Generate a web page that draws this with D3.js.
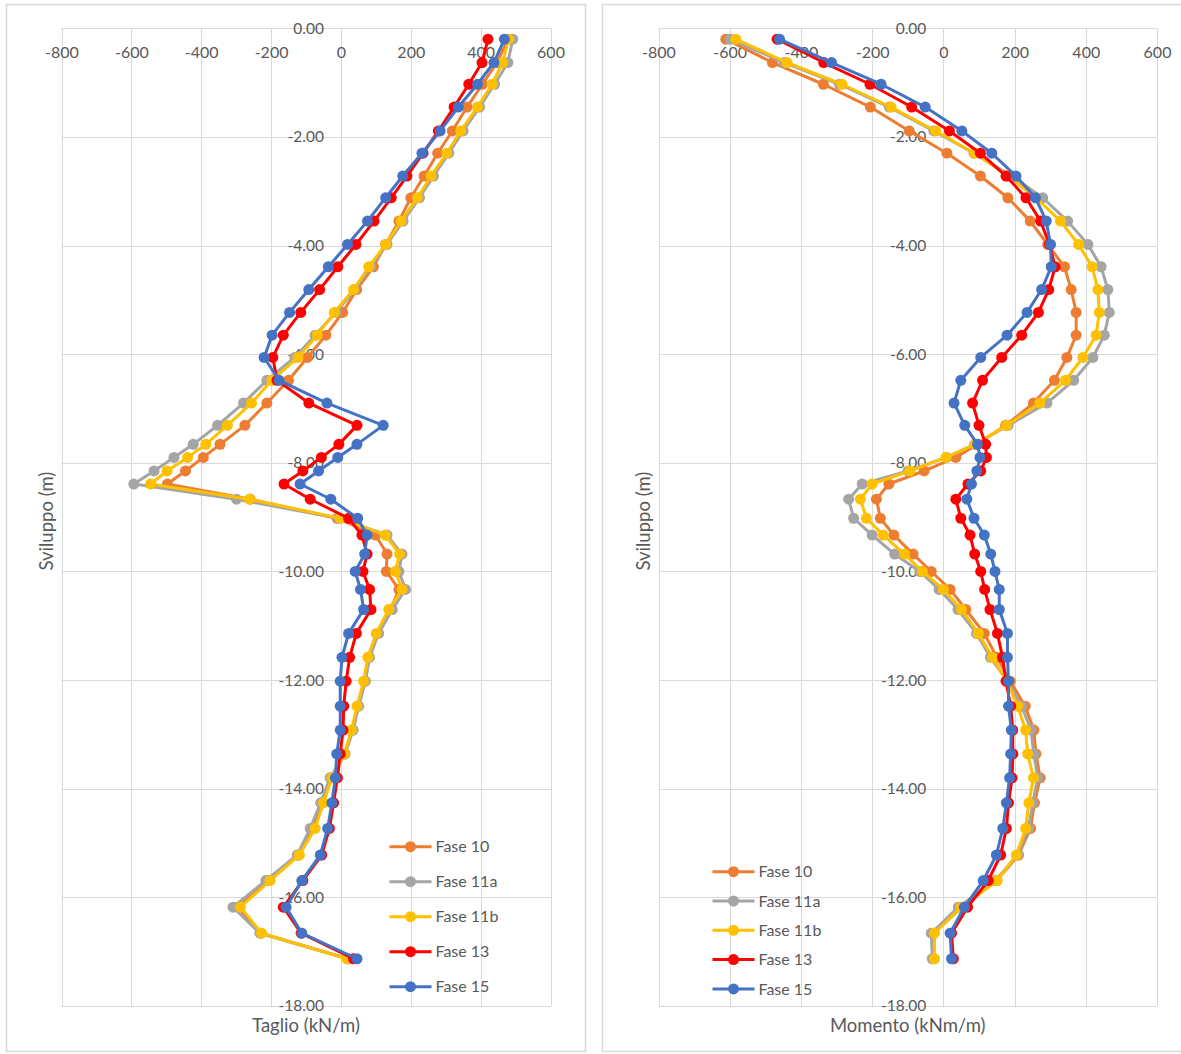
<!DOCTYPE html>
<html>
<head>
<meta charset="utf-8">
<script src="https://cdn.jsdelivr.net/npm/d3@7"></script>
<style>
  html, body { margin: 0; padding: 0; background: #ffffff; }
  svg text { font-family: Lato, "Open Sans", "DejaVu Sans", sans-serif; fill: #595959; }
</style>
</head>
<body>
<svg id="chart" width="1181" height="1054"></svg>
<script>
// Depth of each computed section along the wall (m)
const depths = [-0.20, -0.63, -1.03, -1.45, -1.89, -2.30, -2.72, -3.12, -3.55, -3.98,
  -4.39, -4.81, -5.23, -5.65, -6.06, -6.48, -6.90, -7.31, -7.66, -7.90,
  -8.15, -8.39, -8.67, -9.02, -9.33, -9.68, -10.00, -10.33, -10.70, -11.14,
  -11.58, -12.02, -12.48, -12.92, -13.36, -13.80, -14.26, -14.73, -15.22, -15.69,
  -16.18, -16.66, -17.13];

const phaseNames = ["Fase 10", "Fase 11a", "Fase 11b", "Fase 13", "Fase 15"];

// Shear (kN/m) per phase
const shearFase10 = [478, 447, 405, 361, 319, 277, 238, 200, 166, 128,
  93, 45, 5, -43, -96, -150, -212, -275, -346, -394,
  -445, -497, -260, -11, 99, 132, 130, 166, 142, 104,
  80, 68, 48, 32, 11, -28, -54, -80, -122, -208,
  -295, -229, 20];
const shearFase11a = [492, 478, 440, 397, 350, 309, 265, 225, 178, 132,
  85, 40, -14, -74, -132, -212, -279, -353, -423, -478,
  -535, -593, -299, -7, 132, 175, 166, 185, 147, 108,
  82, 70, 51, 35, 12, -31, -58, -88, -125, -215,
  -309, -232, 20];
const shearFase11b = [480, 463, 433, 391, 343, 303, 258, 219, 172, 128,
  80, 36, -19, -68, -123, -198, -256, -325, -387, -439,
  -498, -545, -262, -2, 127, 168, 156, 175, 137, 101,
  77, 65, 46, 30, 10, -26, -50, -74, -119, -203,
  -288, -227, 17];
const shearFase13 = [421, 404, 366, 324, 279, 235, 189, 144, 95, 43,
  -9, -61, -115, -165, -195, -183, -92, 46, -6, -56,
  -109, -163, -88, 22, 60, 75, 63, 82, 86, 44,
  25, 15, 8, 6, -2, -10, -21, -33, -55, -109,
  -165, -114, 36];
const shearFase15 = [468, 438, 391, 336, 284, 232, 177, 128, 76, 19,
  -36, -92, -147, -197, -220, -177, -40, 121, 46, -9,
  -64, -117, -29, 48, 75, 68, 41, 56, 65, 22,
  3, -2, -2, -2, -12, -16, -26, -38, -59, -112,
  -157, -112, 46];

// Bending moment (kNm/m) per phase
const momentFase10 = [-611, -480, -337, -205, -96, 10, 104, 181, 244, 293,
  340, 359, 373, 373, 347, 312, 253, 175, 95, 35,
  -54, -153, -188, -177, -139, -85, -34, 19, 63, 115,
  150, 188, 230, 254, 260, 272, 256, 245, 211, 150,
  52, -27, -27];
const momentFase11a = [-599, -447, -292, -152, -27, 86, 192, 279, 349, 406,
  443, 462, 466, 452, 420, 366, 291, 182, 88, 9,
  -99, -228, -266, -252, -200, -137, -66, -12, 41, 93,
  132, 180, 220, 246, 254, 265, 251, 239, 209, 146,
  42, -34, -31];
const momentFase11b = [-583, -439, -285, -147, -22, 87, 183, 260, 329, 380,
  418, 434, 438, 429, 392, 343, 271, 178, 90, 7,
  -94, -200, -233, -216, -169, -109, -59, 0, 51, 98,
  138, 178, 209, 231, 237, 253, 240, 231, 205, 151,
  50, -25, -25];
const momentFase13 = [-467, -336, -206, -89, 17, 104, 176, 232, 273, 298,
  314, 296, 267, 220, 164, 110, 82, 100, 119, 121,
  105, 69, 35, 49, 75, 88, 105, 116, 131, 152,
  166, 176, 189, 195, 195, 193, 183, 177, 161, 126,
  68, 23, 28];
const momentFase15 = [-460, -314, -175, -51, 52, 136, 204, 259, 289, 301,
  303, 276, 235, 179, 105, 49, 30, 60, 96, 103,
  94, 79, 66, 86, 115, 133, 145, 157, 157, 180,
  180, 183, 183, 191, 189, 186, 177, 167, 149, 112,
  59, 19, 23];

// Axis ticks
const valueTicks = [-800, -600, -400, -200, 0, 200, 400, 600];
const depthTicks = [0, -2, -4, -6, -8, -10, -12, -14, -16, -18];

const shearSeries = [shearFase10, shearFase11a, shearFase11b, shearFase13, shearFase15];
const momentSeries = [momentFase10, momentFase11a, momentFase11b, momentFase13, momentFase15];

const palette = ["#ED7D31", "#A5A5A5", "#FFC000", "#FF0000", "#4472C4"];
const gridColor = "#D9D9D9";

const svg = d3.select("#chart");
svg.append("rect").attr("width", 1181).attr("height", 1054).attr("fill", "#ffffff");

function drawPanel(opts) {
  const g = svg.append("g");

  // chart frame
  g.append("rect")
    .attr("x", opts.frame[0] + 0.5).attr("y", opts.frame[1] + 0.5)
    .attr("width", opts.frame[2]).attr("height", opts.frame[3])
    .attr("fill", "#ffffff").attr("stroke", gridColor).attr("stroke-width", 1.5);

  const x = d3.scaleLinear().domain([-800, 600]).range([opts.left, opts.right]);
  const y = d3.scaleLinear().domain([0, -18]).range([opts.top, opts.bottom]);

  // gridlines
  g.append("g").selectAll("line.v").data(valueTicks).join("line")
    .attr("x1", d => Math.round(x(d)) + 0.5).attr("x2", d => Math.round(x(d)) + 0.5)
    .attr("y1", opts.top).attr("y2", opts.bottom)
    .attr("stroke", gridColor).attr("stroke-width", 1);
  g.append("g").selectAll("line.h").data(depthTicks).join("line")
    .attr("y1", d => Math.round(y(d)) + 0.5).attr("y2", d => Math.round(y(d)) + 0.5)
    .attr("x1", opts.left).attr("x2", opts.right)
    .attr("stroke", gridColor).attr("stroke-width", 1);

  // horizontal value axis, labels just under the zero-depth line
  const xAxis = d3.axisBottom(x).tickValues(valueTicks).tickSize(0).tickPadding(0)
    .tickFormat(d3.format("d"));
  const xa = g.append("g").attr("transform", `translate(0,${opts.top})`).call(xAxis);
  xa.select(".domain").remove();
  xa.selectAll("text").attr("y", 24).attr("dy", "0.35em")
    .style("font-size", "16px").attr("fill", "#595959")
    .text(d => d < 0 ? "-" + Math.abs(d) : d);

  // vertical depth axis crossing at value 0
  const yAxis = d3.axisLeft(y).tickValues(depthTicks).tickSize(0).tickPadding(17)
    .tickFormat(d => d === 0 ? "0.00" : "-" + Math.abs(d).toFixed(2));
  const ya = g.append("g").attr("transform", `translate(${x(0)},0)`).call(yAxis);
  ya.select(".domain").remove();
  ya.selectAll("text").style("font-size", "15.5px").attr("fill", "#595959");

  // axis titles
  g.append("text")
    .attr("transform", `translate(${opts.yTitleX},${(opts.top + opts.bottom) / 2 + 4}) rotate(-90)`)
    .attr("text-anchor", "middle").attr("dy", "0.35em")
    .style("font-size", "18.5px").text("Sviluppo (m)");
  g.append("text")
    .attr("x", (opts.left + opts.right) / 2).attr("y", 1026).attr("dy", "0.35em")
    .attr("text-anchor", "middle").style("font-size", "18.5px").text(opts.xTitle);

  // series: line then markers, in phase order
  const line = d3.line().x(d => x(d[0])).y(d => y(d[1]));
  opts.series.forEach((vals, i) => {
    const pts = vals.map((v, k) => [v, depths[k]]);
    const sg = g.append("g");
    sg.append("path").datum(pts).attr("d", line)
      .attr("fill", "none").attr("stroke", palette[i]).attr("stroke-width", 3)
      .attr("stroke-linejoin", "round");
    sg.selectAll("circle").data(pts).join("circle")
      .attr("cx", d => x(d[0])).attr("cy", d => y(d[1])).attr("r", 5.5)
      .attr("fill", palette[i]);
  });

  // legend
  const lg = g.append("g");
  phaseNames.forEach((name, i) => {
    const ly = opts.legend.y + i * opts.legend.step;
    lg.append("line").attr("x1", opts.legend.x).attr("x2", opts.legend.x + 42)
      .attr("y1", ly).attr("y2", ly).attr("stroke", palette[i]).attr("stroke-width", 3);
    lg.append("circle").attr("cx", opts.legend.x + 21).attr("cy", ly).attr("r", 5.5)
      .attr("fill", palette[i]);
    lg.append("text").attr("x", opts.legend.x + 46).attr("y", ly).attr("dy", "0.35em")
      .style("font-size", "16px").text(name);
  });
}

drawPanel({
  frame: [6, 4, 579, 1047],
  left: 61.5, right: 550.5, top: 28.3, bottom: 1006,
  yTitleX: 47, xTitle: "Taglio (kN/m)",
  series: shearSeries,
  legend: { x: 389.5, y: 846.7, step: 35 }
});

drawPanel({
  frame: [602, 4, 580, 1047],
  left: 658.5, right: 1157, top: 28.3, bottom: 1006,
  yTitleX: 643.5, xTitle: "Momento (kNm/m)",
  series: momentSeries,
  legend: { x: 712.5, y: 871.7, step: 29.3 }
});
</script>
</body>
</html>
